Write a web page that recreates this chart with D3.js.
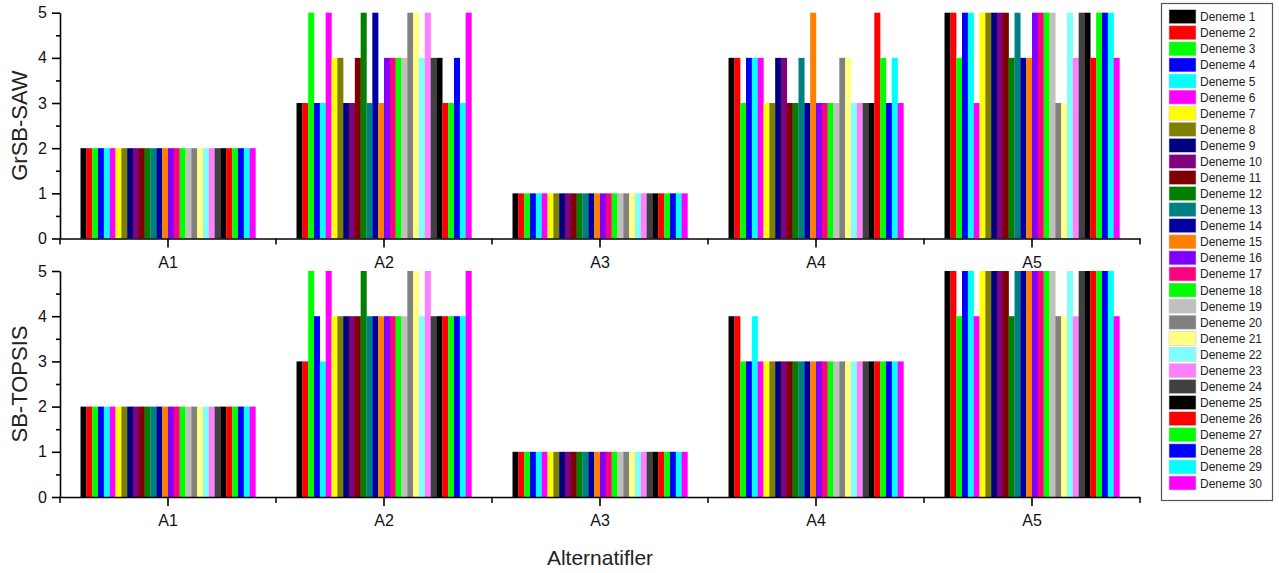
<!DOCTYPE html>
<html>
<head>
<meta charset="utf-8">
<script src="https://cdn.jsdelivr.net/npm/d3@7"></script>
<style>
  body { margin: 0; background: #fff; }
  text { font-family: "Liberation Sans", Arial, sans-serif; }
</style>
</head>
<body>
<script>
var width = 1279,
    height = 573;

var alternatives = ["A1", "A2", "A3", "A4", "A5"];
var series = ["Deneme 1", "Deneme 2", "Deneme 3", "Deneme 4", "Deneme 5", "Deneme 6",
  "Deneme 7", "Deneme 8", "Deneme 9", "Deneme 10", "Deneme 11", "Deneme 12",
  "Deneme 13", "Deneme 14", "Deneme 15", "Deneme 16", "Deneme 17", "Deneme 18",
  "Deneme 19", "Deneme 20", "Deneme 21", "Deneme 22", "Deneme 23", "Deneme 24",
  "Deneme 25", "Deneme 26", "Deneme 27", "Deneme 28", "Deneme 29", "Deneme 30"];
var colors = ["#000000", "#ff0000", "#00ff00", "#0000ff", "#00ffff", "#ff00ff",
  "#ffff00", "#808000", "#000080", "#800080", "#800000", "#008000",
  "#008080", "#0000a0", "#ff8000", "#8000ff", "#ff0080", "#00ff00",
  "#c0c0c0", "#808080", "#ffff80", "#80ffff", "#ff80ff", "#404040",
  "#000000", "#ff0000", "#00ff00", "#0000ff", "#00ffff", "#ff00ff"];
var yTicks = [0, 1, 2, 3, 4, 5];

// GrSB-SAW ranks, one array per alternative (Deneme 1..30)
var sawA1 = [2,2,2,2,2,2,2,2,2,2,2,2,2,2,2,2,2,2,2,2,2,2,2,2,2,2,2,2,2,2];
var sawA2 = [3,3,5,3,3,5,4,4,3,3,4,5,3,5,3,4,4,4,4,5,5,4,5,4,4,3,3,4,3,5];
var sawA3 = [1,1,1,1,1,1,1,1,1,1,1,1,1,1,1,1,1,1,1,1,1,1,1,1,1,1,1,1,1,1];
var sawA4 = [4,4,3,4,4,4,3,3,4,4,3,3,4,3,5,3,3,3,3,4,4,3,3,3,3,5,4,3,4,3];
var sawA5 = [5,5,4,5,5,3,5,5,5,5,5,4,5,4,4,5,5,5,5,3,3,5,4,5,5,4,5,5,5,4];

// SB-TOPSIS ranks
var topA1 = [2,2,2,2,2,2,2,2,2,2,2,2,2,2,2,2,2,2,2,2,2,2,2,2,2,2,2,2,2,2];
var topA2 = [3,3,5,4,3,5,4,4,4,4,4,5,4,4,4,4,4,4,4,5,5,4,5,4,4,4,4,4,4,5];
var topA3 = [1,1,1,1,1,1,1,1,1,1,1,1,1,1,1,1,1,1,1,1,1,1,1,1,1,1,1,1,1,1];
var topA4 = [4,4,3,3,4,3,3,3,3,3,3,3,3,3,3,3,3,3,3,3,3,3,3,3,3,3,3,3,3,3];
var topA5 = [5,5,4,5,5,4,5,5,5,5,5,4,5,5,5,5,5,5,5,4,4,5,4,5,5,5,5,5,5,4];

var panels = [
  {title: "GrSB-SAW", values: [sawA1, sawA2, sawA3, sawA4, sawA5], y0: 238.5, y5: 12.7},
  {title: "SB-TOPSIS", values: [topA1, topA2, topA3, topA4, topA5], y0: 497, y5: 271}
];

var svg = d3.select("body").append("svg")
    .attr("width", width)
    .attr("height", height);

var x0 = d3.scaleBand()
    .domain(alternatives)
    .range([60, 1140])
    .paddingInner(0.19)
    .paddingOuter(0.095);

var x1 = d3.scaleBand()
    .domain(series)
    .range([0, x0.bandwidth()]);

var color = d3.scaleOrdinal().domain(series).range(colors);

// group boundaries for the small x ticks
var bounds = alternatives.map(function(a) { return x0(a) + x0.bandwidth() / 2 - x0.step() / 2; });
bounds.push(bounds[bounds.length - 1] + x0.step());

panels.forEach(function(p) {
  var y = d3.scaleLinear().domain([0, 5]).range([p.y0, p.y5]);
  var g = svg.append("g");

  var rows = [];
  alternatives.forEach(function(a, i) {
    p.values[i].forEach(function(v, j) {
      rows.push({alt: a, s: series[j], v: v});
    });
  });

  g.selectAll("rect.bar")
      .data(rows)
    .enter().append("rect")
      .attr("class", "bar")
      .attr("x", function(d) { return x0(d.alt) + x1(d.s); })
      .attr("width", x1.bandwidth() + 0.2)
      .attr("y", function(d) { return y(d.v); })
      .attr("height", function(d) { return y(0) - y(d.v); })
      .attr("fill", function(d) { return color(d.s); });

  // y axis
  g.append("g")
      .attr("transform", "translate(60,0)")
      .call(d3.axisLeft(y).tickValues(yTicks).tickFormat(d3.format("d")).tickSize(8).tickSizeOuter(0).tickPadding(5));
  g.append("g")
      .attr("transform", "translate(60,0)")
      .call(d3.axisLeft(y).tickValues([0.5, 1.5, 2.5, 3.5, 4.5]).tickFormat("").tickSize(4).tickSizeOuter(0))
      .select(".domain").remove();

  // x axis
  g.append("g")
      .attr("transform", "translate(0," + y(0) + ")")
      .call(d3.axisBottom(x0).tickSize(9).tickSizeOuter(0).tickPadding(9));
  g.append("g")
      .attr("transform", "translate(0," + y(0) + ")")
      .selectAll("line")
      .data(bounds)
    .enter().append("line")
      .attr("x1", function(d) { return d; })
      .attr("x2", function(d) { return d; })
      .attr("y1", 0)
      .attr("y2", 6)
      .attr("stroke", "#000")
      .attr("stroke-width", 1.5);

  g.selectAll(".domain, .tick line").attr("stroke", "#000").attr("stroke-width", 1.6);
  g.selectAll(".tick text").attr("fill", "#111").style("font-size", "16px")
      .style("font-family", "'Liberation Sans', Arial, sans-serif");

  svg.append("text")
      .attr("transform", "translate(26.5," + ((p.y0 + p.y5) / 2) + ") rotate(-90)")
      .attr("text-anchor", "middle")
      .style("font-size", "22px")
      .attr("fill", "#222")
      .text(p.title);
});

svg.append("text")
    .attr("x", 600)
    .attr("y", 565)
    .attr("text-anchor", "middle")
    .style("font-size", "21px")
    .attr("fill", "#222")
    .text("Alternatifler");

// legend
var legend = svg.append("g");
legend.append("rect")
    .attr("x", 1161.5)
    .attr("y", 3.5)
    .attr("width", 111)
    .attr("height", 497)
    .attr("fill", "#fff")
    .attr("stroke", "#555")
    .attr("stroke-width", 1.2);

var item = legend.selectAll("g.item")
    .data(series)
  .enter().append("g")
    .attr("class", "item")
    .attr("transform", function(d, i) { return "translate(1169," + (16.7 + i * 16.08) + ")"; });

item.append("rect")
    .attr("x", 0)
    .attr("y", -7)
    .attr("width", 27)
    .attr("height", 14)
    .attr("fill", function(d) { return color(d); })
    .attr("stroke", "#ccc")
    .attr("stroke-width", 0.6);

item.append("text")
    .attr("x", 31)
    .attr("y", 4.5)
    .style("font-size", "12px")
    .attr("fill", "#222")
    .text(function(d) { return d; });
</script>
</body>
</html>
